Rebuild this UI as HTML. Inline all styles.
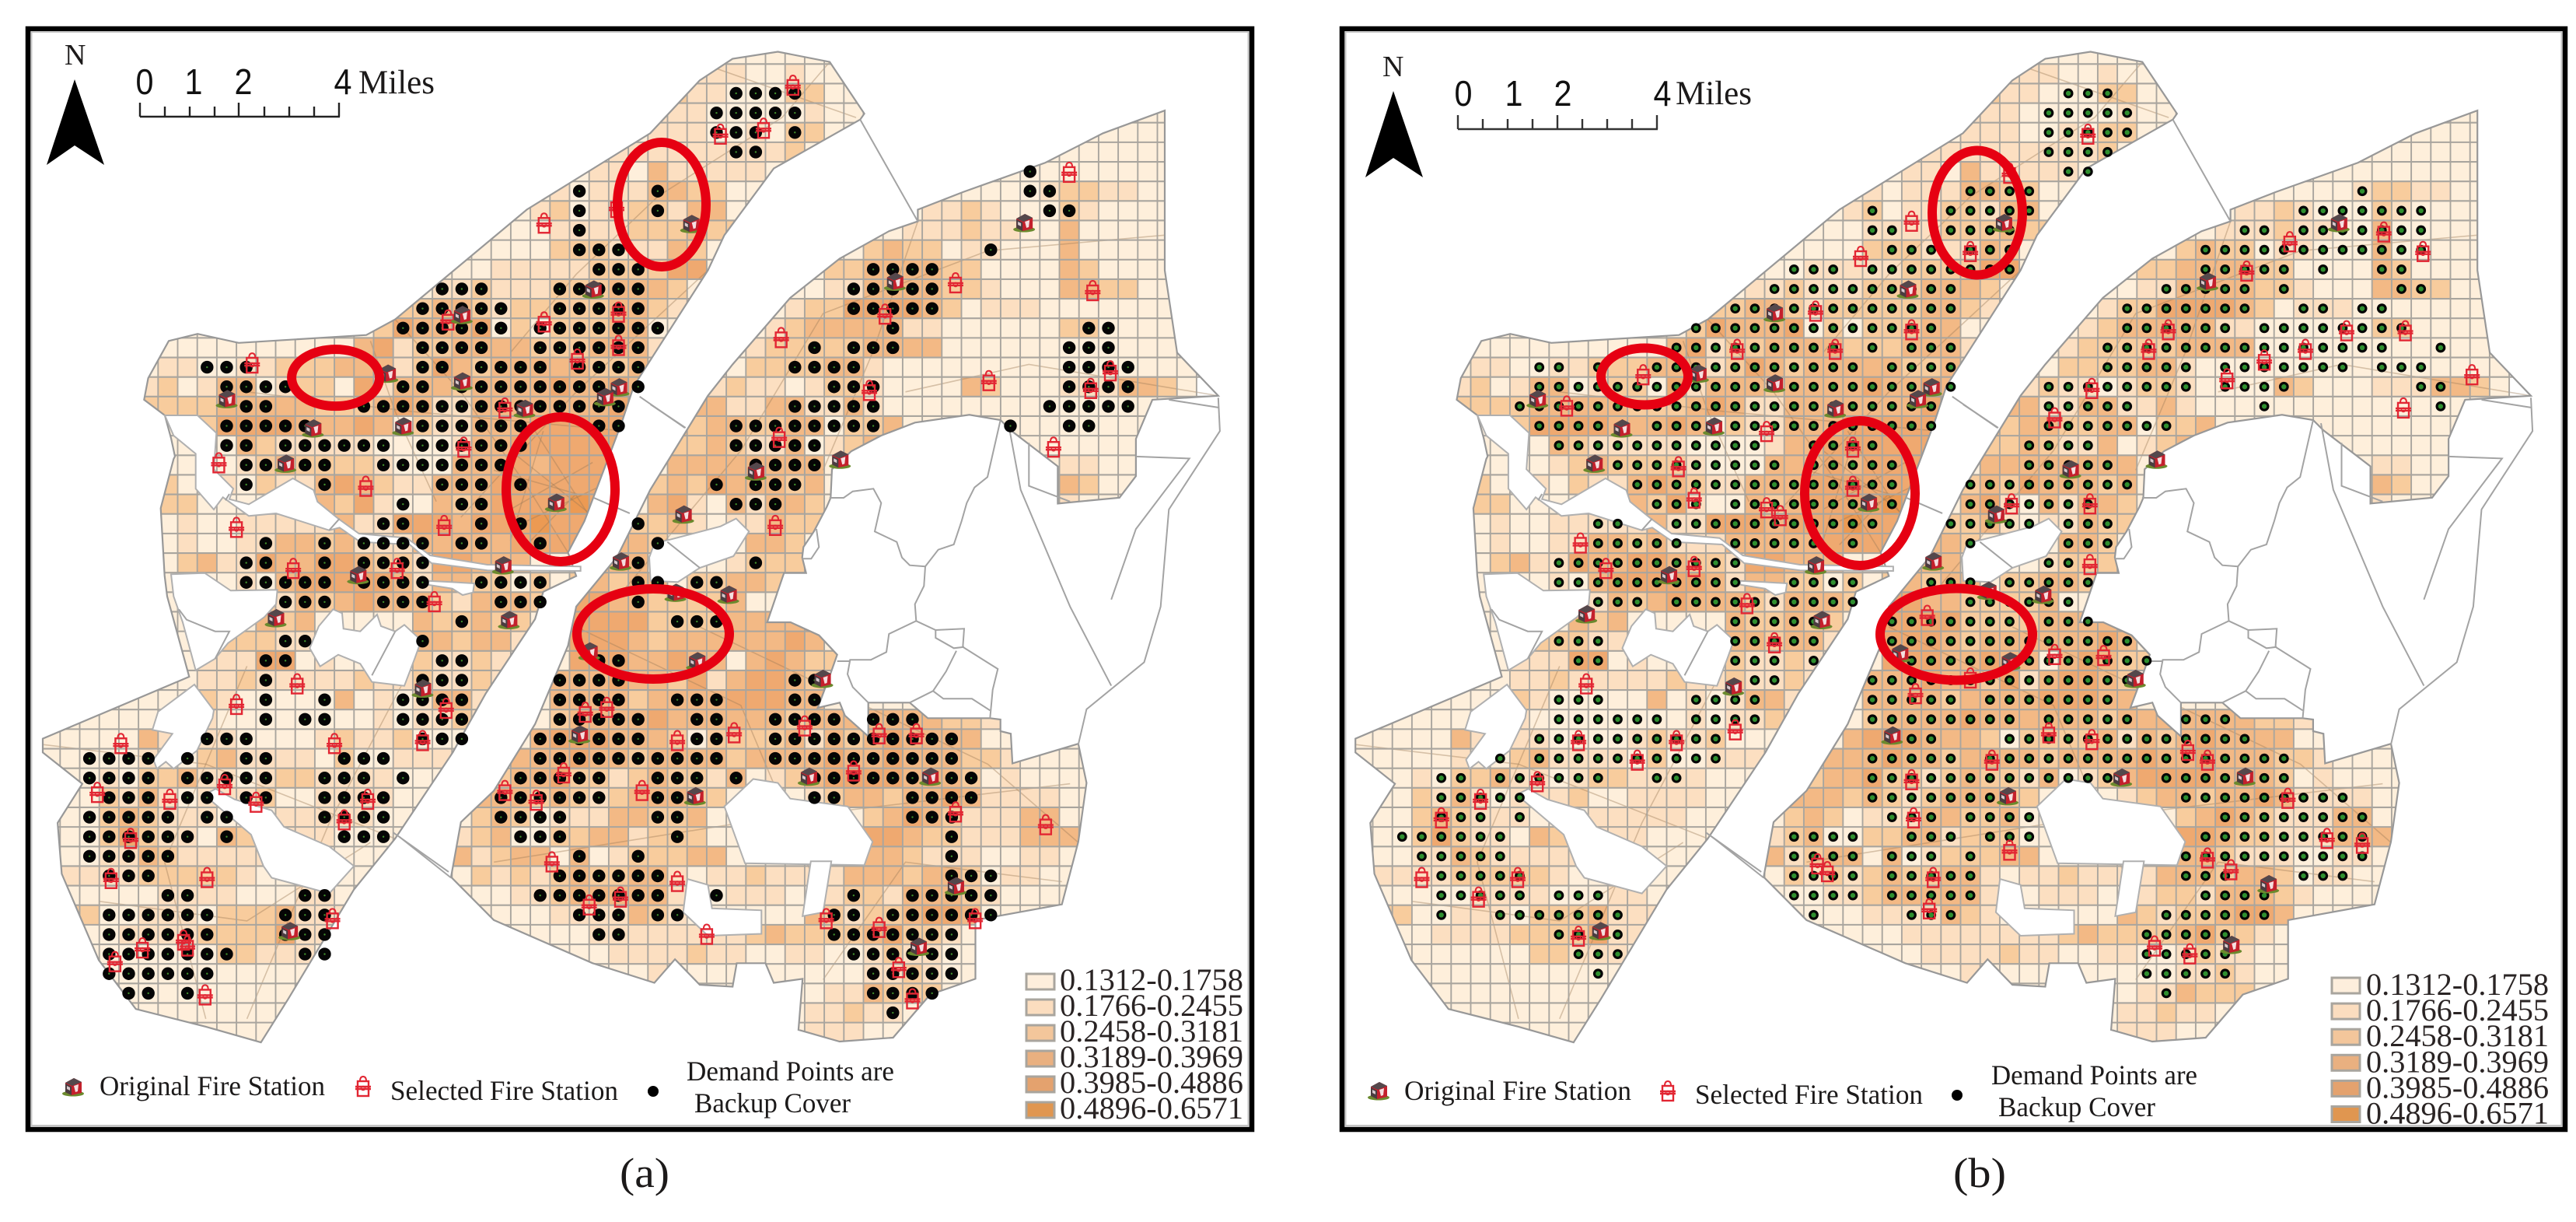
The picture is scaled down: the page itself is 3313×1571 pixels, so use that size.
<!DOCTYPE html>
<html>
<head>
<meta charset="utf-8">
<title>Backup coverage maps (a) and (b)</title>
<style>
html,body{margin:0;padding:0;background:#fff;}
svg{display:block;}
text{font-family:"Liberation Serif",serif;fill:#1c1a1a;}
.sans{font-family:"Liberation Sans",sans-serif;fill:#111;}
.leg{font-size:40px;fill:#2a2424;}
.lab{font-size:36px;}
.ell{fill:none;stroke:#e60012;stroke-width:12;}
</style>
</head>
<body>
<svg id="fig" xmlns="http://www.w3.org/2000/svg" width="3313" height="1571" viewBox="0 0 3313 1571">
<defs>
<symbol id="sym-original" viewBox="0 0 28 28" overflow="visible">
<ellipse cx="14" cy="23" rx="14" ry="3.5" fill="#6b8a2e"/>
<path d="M4 9 L15 3 L25 8 L25 22 L12 25 L4 21 Z" fill="#c4202c"/>
<path d="M4 9 L15 3 L25 8 L13 13 Z" fill="#54484c"/>
<path d="M4 10 L12 14 L12 25 L4 21 Z" fill="#4a3c40"/>
<path d="M15 13 L21 11 L20 20 L17 21 Z" fill="#f4dfe0"/>
<path d="M6 13 L10 15 L10 19 L6 17 Z" fill="#d8c8cc"/>
</symbol>
<symbol id="sym-selected" viewBox="0 0 20 28" overflow="visible">
<path d="M6 7 Q6 1 10 1 Q14 1 14 7" fill="none" stroke="#e22633" stroke-width="2"/>
<rect x="3" y="7" width="14" height="19" fill="none" stroke="#e22633" stroke-width="2.4"/>
<path d="M0 14 H20 M0 17 H20" stroke="#e22633" stroke-width="2.4"/>
<circle cx="10" cy="16" r="2.6" fill="none" stroke="#e22633" stroke-width="1.4"/>
</symbol>
</defs>

<g id="panel-a-map"></g>
<g id="panel-b-map"></g>

<!-- Panel a furniture -->
<g>
<rect x="36" y="37" width="1574" height="1415" fill="none" stroke="#000" stroke-width="6.5"/>
<rect x="40.5" y="41" width="1565" height="1406" fill="none" stroke="#c4c4c4" stroke-width="2"/>
<ellipse class="ell" cx="851" cy="263" rx="57" ry="80"/>
<ellipse class="ell" cx="431.6" cy="485.6" rx="56.5" ry="36.5"/>
<ellipse class="ell" cx="721" cy="629" rx="70" ry="93"/>
<ellipse class="ell" cx="840" cy="815" rx="98" ry="58"/>
<text x="83" y="83" font-size="38">N</text>
<polygon points="96,102 60,212 96,187 134,212" fill="#000"/>
<text class="sans" x="186" y="121" font-size="46" text-anchor="middle" textLength="23" lengthAdjust="spacingAndGlyphs">0</text>
<text class="sans" x="249" y="121" font-size="46" text-anchor="middle" textLength="23" lengthAdjust="spacingAndGlyphs">1</text>
<text class="sans" x="313" y="121" font-size="46" text-anchor="middle" textLength="23" lengthAdjust="spacingAndGlyphs">2</text>
<text class="sans" x="441" y="121" font-size="46" text-anchor="middle" textLength="23" lengthAdjust="spacingAndGlyphs">4</text>
<text x="461" y="120" font-size="43" textLength="98" lengthAdjust="spacingAndGlyphs">Miles</text>
<path d="M180 150 H437 M180 132 V150 M212 137 V150 M244 137 V150 M276 137 V150 M307 132 V150 M340 137 V150 M372 137 V150 M404 137 V150 M436 132 V150" fill="none" stroke="#222" stroke-width="2.4"/>
<use href="#sym-original" x="80" y="1383" width="28" height="28"/>
<text class="lab" x="128" y="1408" textLength="290" lengthAdjust="spacingAndGlyphs">Original Fire Station</text>
<use href="#sym-selected" x="457" y="1383" width="20" height="28"/>
<text class="lab" x="502" y="1414" textLength="293" lengthAdjust="spacingAndGlyphs">Selected Fire Station</text>
<circle cx="840" cy="1403" r="7" fill="#000"/>
<text class="lab" x="883" y="1389" textLength="267" lengthAdjust="spacingAndGlyphs">Demand Points are</text>
<text class="lab" x="893" y="1430" textLength="201" lengthAdjust="spacingAndGlyphs">Backup Cover</text>
<text x="797" y="1526" font-size="54" textLength="64" lengthAdjust="spacingAndGlyphs">(a)</text>
</g>

<!-- Panel b furniture -->
<g>
<rect x="1726" y="37" width="1573" height="1415" fill="none" stroke="#000" stroke-width="6.5"/>
<rect x="1730.5" y="41" width="1564" height="1406" fill="none" stroke="#c4c4c4" stroke-width="2"/>
<ellipse class="ell" cx="2543" cy="273.5" rx="58" ry="80"/>
<ellipse class="ell" cx="2115" cy="484" rx="56" ry="36.5"/>
<ellipse class="ell" cx="2392" cy="634" rx="71" ry="93"/>
<ellipse class="ell" cx="2516" cy="815.5" rx="98" ry="59"/>
<text x="1778" y="98" font-size="38">N</text>
<polygon points="1792,117 1756,228 1792,203 1830,228" fill="#000"/>
<text class="sans" x="1882" y="136" font-size="46" text-anchor="middle" textLength="23" lengthAdjust="spacingAndGlyphs">0</text>
<text class="sans" x="1947" y="136" font-size="46" text-anchor="middle" textLength="23" lengthAdjust="spacingAndGlyphs">1</text>
<text class="sans" x="2010" y="136" font-size="46" text-anchor="middle" textLength="23" lengthAdjust="spacingAndGlyphs">2</text>
<text class="sans" x="2138" y="136" font-size="46" text-anchor="middle" textLength="23" lengthAdjust="spacingAndGlyphs">4</text>
<text x="2155" y="134" font-size="43" textLength="98" lengthAdjust="spacingAndGlyphs">Miles</text>
<path d="M1875 166 H2132 M1875 148 V166 M1907 153 V166 M1939 153 V166 M1971 153 V166 M2003 148 V166 M2035 153 V166 M2067 153 V166 M2099 153 V166 M2131 148 V166" fill="none" stroke="#333" stroke-width="2.4"/>
<use href="#sym-original" x="1759" y="1388" width="28" height="28"/>
<text class="lab" x="1806" y="1414" textLength="292" lengthAdjust="spacingAndGlyphs">Original Fire Station</text>
<use href="#sym-selected" x="2135" y="1389" width="20" height="28"/>
<text class="lab" x="2180" y="1419" textLength="293" lengthAdjust="spacingAndGlyphs">Selected Fire Station</text>
<circle cx="2517" cy="1408" r="7" fill="#000"/>
<text class="lab" x="2561" y="1394" textLength="265" lengthAdjust="spacingAndGlyphs">Demand Points are</text>
<text class="lab" x="2570" y="1435" textLength="202" lengthAdjust="spacingAndGlyphs">Backup Cover</text>
<text x="2512" y="1526" font-size="54" textLength="68" lengthAdjust="spacingAndGlyphs">(b)</text>
</g>
<g id="legends"></g>
</svg>

<script>
// Heat class palette and legend labels
const classColors = ['#feefdb','#fcdfc1','#f8cc9d','#f3b985','#efa970','#ec9a53'];
const swatchColors = ['#fdeedc','#fbddbf','#f3c69b','#e9b080','#e4a26e','#e09650'];
const classLabels = ['0.1312-0.1758','0.1766-0.2455','0.2458-0.3181','0.3189-0.3969','0.3985-0.4886','0.4896-0.6571'];

// Heat class per grid row (row -2 upward); each token is startColumn:classDigits, default class 0
const heatRows = [
'', '35:111 40:1', '34:211 40:22', '33:111 41:1', '33:111 38:1 40:22', '31:111111 37:111 40:2',
'30:11 33:311111',
'28:10 30:1113322 53:12211',
'27:12 30:1122133 47:112 50:1 54:21',
'28:11 30:11222322 46:1112 50:11 54:3',
'28:22 30:2111 34:32 44:2322 49:11 54:3',
'24:011111 30:2222 34:44 42:22333322 54:32',
'22:11211122 30:2333 34:2 42:11333322 50:1 54:3322',
'20:2233212222 30:23321 40:1224444 47:32 50:111',
'19:2 20:43334020222330 39:12 41:33333 46:11 54:22',
'18:34 20:12233332223331 37:01 39:22222 44:3333',
'8:110011 14:222333 20:12432333332231 36:102 39:2 40:22331',
'7:1201330122041 20:3332333343343 36:121101221 49:32 54:111332',
'7:2222333332223 20:43113333333442 34:33311331131',
'8:002444433343 20:02113334444442 34:323322330223',
'9:00032111110000133 26:44444431 34:22321130123',
'9:00012322221000333 26:4344442 34:33333333 53:011',
'8:200102113432113334 26:444442 33:232433323 53:232',
'8:22 16:3241003234 26:444541 33:341031332 53:11',
'8:010011 14:1113 18:11 20:44434 25:445442 31:32 33:231011322',
'8:01001133231113333 25:34444 31:332 38:332',
'8:02311433443221 22:44333 30:333 37:1222',
'9:0001034444431 22:332202 29:23 31:233 35:22332',
'13:2 14:132343332133 26:321 29:44 31:3322223',
'13:323 21:322322 29:44 31:44222233334',
'11:22211 21:332331 29:444 32:3233333343',
'10:1114401 21:21121 29:444 32:33433034322',
'9:0112111112112112 25:1 28:3334 32:3324134432',
'10:210000030101331 28:3333 32:2333344433',
'8:111 19:101121 28:2333 32:3433333323333333 48:221',
'5:003 8:11 10:11 16:12112 27:34443 32:3320222231 42:32343333',
'3:00001 10:2311110200111 26:333433 32:233332333343343332 50:21',
'4:010223110122 16:111100 25:2334221232213 39:12344443332010',
'3:0021310 10:1112 16:11110 24:3332321233322 39:001233233431111',
'3:0023211 10:1 14:111110 24:232011133223 44:2 45:34321 50:1133',
'3:0024211 11:3 12:211110 23:1230022331222 44:443221 50:11333',
'3:00113211 11:111 23:31233030122233 44:332111 50:0011',
'3:1111222 10:221 23:021212322331 36:11211113 44:33233 49:2011',
'3:000001 9:111000110 24:00112333331 37:111001 43:221333 49:21',
'3:22001110 11:2223111 25:0001111321 41:321223443',
'4:001111222 13:24110 30:111111 36:1123222234221',
'11:221 14:110 31:1111211 40:11 44:1211',
'33:1 44:1121',
'42:11 44:3222',
'41:11211',
'41:111'
];

// Backup-cover demand points: per row (row 0 upward), occupied columns
const dotsA = [
'37-40','36-40','36-38 40','37-38','52','29 33 52-53','29 33 53-54','29','29-31 50',
'30-32 44-47','22-24 28-32 43-47','21-25 28-32 43-47','20-25 27-33 45 55-56',
'21-24 27-32 41 43-45 54-56','10-12 21-22 24-27 29-32 40-43 54-57',
'11-14 20-21 23-32 42-44 54-57','12-13 18-31 40-44 53-57',
'11-15 20-26 30-31 37-44 51 54-55','11-12 14-19 21-26 37-41','12-16 19-25 38-41',
'12 16 22-24 26 36 38-40','20 23-24 37-39','19-20 24 26 32','13 16 18-21 23-24 27 33',
'12-13 16 18-21 32 38','12-16 18-21 24-27 32-33 35-36','14-16 19-21 25-27 32',
'23 34-36','14-15 21','13-14 22-23 30-31','13 21-23 28-31 40-41',
'13 16 20-23 28-31 34-36 40-41','13 15-16 20-23 28-32 35-36 39-42 44-46',
'10-12 21-23 27-32 35-36 39-48','4-7 9 12-13 17-19 27-36 39-48',
'4-7 9-13 16-18 20 26-30 33-35 37 41-49','5-7 9-10 12-13 16-19 25-30 33-34 41-42 46-49',
'4-8 10-11 16-19 25-28 33-34 46-48','4-9 11 17-19 26-28 34 48','4-8 29 32 48',
'5-7 28-33 48-50','8-9 15-16 27-33 36 43 46-50','5-10 14-16 29-31 33-34 42-43 45-50',
'5-10 14-16 30-31 42-48','5-11 15-16 43-48','5-10 44-48','6-7 9 44-47','45'
];
const dotsB = [
'38-40','37-41','37-41','37-40','38-39','33-36 53','28 32-36 50-56','28-29 32-35 47-48 50-56',
'29-31 33-35 45-56','24-26 28-35 45-49 51 54-55','23-32 43-47 49 55-56','21-32 41-47 50-51 53-54',
'19-31 41-46 48-55','18-26 28 30-32 40-54 57','11-12 14 17-27 29-32 40-44 46-52 54-56',
'11-32 37-44 46-49 56-57','10-31 37-41 48 57','11-14 17-31 37-43','12-22 25-28 36-39',
'15-23 25-29 36-40','16-29 33-41','17-19 21-29 33-39','14-15 18-28 32-36 38-40',
'14-18 21-25 27 33 38-40','12-21 31 37-38','12-21 24-27 31-33 35-39','14-16 18-27 33-38',
'21-25 29-35 37-39','12-14 21-25 29-41','13-14 21-23 25 30-42','22-23 28-41',
'12-14 19-22 28-32 34-40','12-17 19-22 28-35 37-41 44-46','11-20 30-31 35-47',
'9 11-20 28-32 34-49','6-7 9-14 17-18 28-40 43-49','6-10 28-34 44-52','6-8 10 29-31 33-36 46-53',
'4-9 24-27 30-32 34-36 45-53','5-9 24-27 29-31 33 44-53','6-10 24-27 29-33 44-46 50-52',
'6-10 12-14 24-27 29-33 45-48','6 9-15 25 30-32 43-48','12-15 42-46','13-15 42-46','14 42-46','43'
];

// Fire stations as [column, row] grid positions
const originalA = [[34.7,6.65],[51.7,6.6],[45.1,9.6],[29.7,10],[23,11.3],[19.2,14.3],[23,14.7],[31,15],[30.3,15.5],[11,15.6],[26.2,16.1],[15.4,17.1],[20,17],[14,18.9],[42.3,18.7],[38,19.3],[27.8,20.9],[34.3,21.5],[25.1,24.1],[31.1,23.9],[17.7,24.6],[33.9,25.5],[36.6,25.6],[13.5,26.8],[25.4,26.9],[21,30.4],[35,29],[29.5,28.5],[41.4,29.9],[29,32.75],[40.7,34.9],[46.9,34.9],[34.9,35.9],[48.2,40.5],[14.2,42.8],[46.3,43.6]];
const selectedA = [[39.9,-0.4],[36.2,2.1],[38.4,1.8],[54,4.05],[27.2,6.65],[30.9,5.85],[48.2,9.7],[55.2,10.1],[31,11.2],[44.6,11.3],[22.3,11.6],[27.2,11.7],[39.3,12.5],[31,12.9],[28.9,13.6],[12.3,13.8],[56.1,14.2],[49.9,14.7],[43.8,15.2],[55.1,15.1],[25.2,16.1],[39.2,17.6],[53.2,18.1],[23.1,18.1],[10.6,18.9],[18.1,20.1],[39,22.1],[22.1,22.1],[11.5,22.2],[14.4,24.3],[19.7,24.3],[21.6,26],[14.6,30.2],[11.5,31.25],[22.2,31.45],[29.3,31.65],[30.4,31.4],[16.5,33.25],[21,33.1],[5.6,33.25],[36.9,32.7],[34,33.1],[40.5,32.35],[44.3,32.75],[46.2,32.75],[43,34.65],[28.2,34.75],[4.4,35.75],[8.1,36.1],[12.5,36.25],[10.9,35.35],[18.2,36.1],[25.2,35.65],[26.8,36.15],[32.2,35.65],[48.2,36.75],[17,37.15],[6.1,38.1],[52.8,37.4],[27.6,39.3],[10,40.1],[5.1,40.15],[34,40.3],[29.5,41.5],[31.1,41.1],[41.6,42.2],[49.2,42.2],[16.4,42.2],[44.3,42.65],[35.5,43],[6.7,43.7],[8.8,43.3],[9,43.6],[5.3,44.4],[45.3,44.7],[9.9,46.1],[46,46.3]];
const originalB = [[34.7,6.6],[51.8,6.6],[45.1,9.6],[29.8,10],[23,11.2],[19.1,14.3],[23,14.8],[31,15],[30.3,15.6],[10.9,15.6],[26.1,16.1],[15.2,17.1],[19.9,17],[13.8,18.9],[42.5,18.7],[38.1,19.2],[27.8,20.9],[34.3,21.5],[25.1,24.1],[31.1,23.9],[17.6,24.6],[33.9,25.4],[36.7,25.6],[13.4,26.6],[25.4,26.9],[20.9,30.3],[29.4,28.6],[35,29],[41.4,29.9],[29,32.8],[40.7,34.95],[47,34.9],[34.9,35.9],[48.2,40.4],[14.1,42.8],[46.3,43.5]];
const selectedB = [[39,2.1],[35,4.1],[30,6.55],[54.1,7.1],[49.3,7.6],[56.1,8.1],[33,8.1],[27.4,8.35],[47.1,9.1],[25.1,11.15],[30,12.1],[43.1,12.1],[52.2,12.15],[55.2,12.15],[21.1,13.1],[26.1,13.1],[42.1,13.1],[50.1,13.1],[48,13.65],[16.3,14.4],[46.1,14.6],[58.6,14.4],[39.2,15.1],[12.4,16],[55.1,16.1],[37.3,16.6],[22.6,17.3],[27,18.1],[18.1,19.1],[27,20.1],[18.9,20.7],[22.6,21.2],[23.3,21.6],[35.1,21],[39.1,21],[13.1,23],[39.1,24.1],[14.4,24.3],[18.9,24.2],[21.6,26.1],[30.8,26.7],[23,28.1],[37.3,28.7],[39.8,28.75],[33,29.9],[13.4,30.2],[30.2,30.7],[21,32.55],[37,32.7],[39.2,33.05],[13,33.1],[18,33.1],[44.1,33.6],[16,34.1],[34.1,34.1],[45.1,34.1],[10.9,35.2],[30,35.1],[8,36.1],[49.2,36.05],[6,37.05],[30.1,37.05],[51.2,38.1],[53,38.35],[35,38.7],[45.1,39.1],[25.2,39.4],[25.7,39.8],[46.3,39.7],[5,40.1],[9.9,40.1],[31.1,40.1],[7.9,41.1],[30.9,41.7],[42.4,43.6],[44.2,44],[13,43.1]];

// Geographic outlines, traced in three survey frames and normalised to panel units
const fromSurvey = list => list.map(p => [p[0] / 0.9446, p[1] / 1.985]);
const fromWest = list => list.map(p => [180 + p[0] / 3, 560 + p[1] / 3]);
const fromEast = list => list.map(p => [800 + p[0] / 3, 520 + p[1] / 3]);

const bankWest = [
  ...fromSurvey([[175,1020],[180,965],[205,870],[240,852],[290,875],[445,855],[480,815],[640,535],[790,340],[850,205],[890,150],[945,132],[1008,158],[1050,290],[1045,305],[940,430],[880,600],[860,690],[770,985],[755,1080],[710,1330],[690,1410],[700,1470],[660,1510],[650,1580],[590,1770],[550,1920],[480,2140],[430,2270],[350,2550],[317,2660],[250,2620],[165,2575],[120,2450],[75,2230],[70,2100],[100,2000],[52,1920],[52,1885]]),
  ...fromWest([[190,930],[105,620],[95,540],[80,280],[130,90],[135,80],[120,10],[96,-78]])
];
const bankEast = [
  ...fromSurvey([[548,2238],[560,2098],[600,2018],[650,1848],[690,1648],[700,1548],[750,1420],[790,1250],[860,1010],[890,930],[960,760],[1020,660],[1080,590],[1115,565],[1115,535],[1170,490],[1270,415],[1340,340],[1415,282],[1415,690],[1430,900],[1480,1010],[1400,1020],[1380,1120],[1380,1215],[1360,1270],[1285,1285],[1285,1190]]),
  ...fromEast([[1500,100],[1460,60],[1340,40],[1130,70],[1000,120],[885,180],[810,250],[805,360],[790,395],[740,490],[700,550],[695,590],[710,650],[625,650],[560,840],[650,840],[760,890],[830,965],[800,1050],[755,1170],[840,1150],[860,1200],[950,1280],[950,1150],[1110,1150],[1180,1210],[1420,1210],[1460,1215],[1460,1260],[1500,1270]]),
  ...fromSurvey([[1230,1948],[1310,1898],[1320,1998],[1310,2148],[1290,2308],[1185,2348],[1185,2498],[1130,2538],[1085,2648],[1020,2658],[970,2628],[975,2498],[940,2508],[930,2458],[895,2458],[890,2518],[850,2513],[820,2448],[795,2508],[720,2458],[600,2348]])
];
const lakes = [
  fromWest([[96,-78],[222,-78],[295,-10],[285,130],[360,205],[345,245],[420,265],[590,165],[670,210],[685,255],[765,320],[845,378],[1030,395],[1120,462],[1340,498],[1700,505],[1700,522],[1340,520],[1125,492],[1040,420],[850,410],[770,355],[730,365],[525,300],[420,310],[320,238],[285,285],[215,205],[215,70],[130,0]]),
  fromWest([[120,535],[250,530],[350,598],[530,595],[525,650],[480,700],[340,800],[290,860],[215,905],[165,720],[130,620]]),
  fromWest([[745,670],[780,685],[785,745],[850,755],[915,690],[930,735],[985,755],[1020,730],[1085,790],[1060,860],[1020,965],[895,950],[850,880],[765,845],[695,890],[655,820],[690,735]]),
  fromWest([[1110,560],[1200,565],[1290,570],[1285,605],[1245,615],[1205,590],[1110,575]]),
  fromWest([[210,960],[285,1060],[280,1090],[220,1215],[130,1285],[100,1258],[65,1285],[52,1250],[125,1150],[48,1135],[70,1065]]),
  fromSurvey([[262,2013],[248,2028],[305,2130],[320,2210],[330,2240],[400,2280],[430,2210],[400,2160],[345,2110],[330,2068],[285,2040]]),
  fromSurvey([[915,1988],[880,2058],[905,2203],[1050,2208],[1060,2148],[1030,2058],[960,2038],[945,1998]]),
  fromSurvey([[835,2243],[830,2328],[860,2388],[925,2383],[925,2323],[865,2318],[860,2258]]),
  fromSurvey([[985,2198],[975,2338],[1000,2328],[1010,2198]]),
  fromEast([[110,680],[105,590],[125,535],[190,520],[380,470],[440,440],[490,490],[430,585],[300,630],[215,685]])
];
const roads = [
  [[480,815],[560,1000],[640,1240],[690,1410]],[[860,690],[700,1000],[560,1320]],[[1008,158],[950,300],[800,500],[700,700],[620,900]],
  [[300,1000],[500,1050],[760,1100]],[[620,1150],[740,1350]],[[650,1100],[720,1330]],[[620,1300],[720,1180]],[[450,870],[480,1050],[530,1280]],
  [[600,1200],[700,1260],[640,1390]],[[640,1330],[730,1240]],[[660,1100],[620,1380]],
  [[1415,600],[1200,640],[1000,800],[900,1150],[760,1500]],[[1115,565],[1060,900],[1000,1200]],[[850,1600],[1000,1750],[1200,1950],[1310,2150]],
  [[700,1600],[900,1800],[1000,2300]],[[1480,1010],[1250,930],[1100,1000]],[[600,2200],[900,2100],[1300,2000]],[[1000,2500],[1100,2200],[1290,2250]],
  [[52,1900],[250,1950],[480,2140]],[[300,1700],[200,2200],[250,2600]],[[500,1700],[400,2100],[300,2600]],[[850,160],[1040,300]],[[120,2300],[300,2350],[450,2150]]
].map(fromSurvey);
const districtLines = [
  ...[
    [[1045,305],[1115,565]],[[777,1012],[832,1092]],[[721,1270],[765,1310]],[[485,2135],[548,2240]],[[478,2125],[545,2225]],
    [[1225,1080],[1240,1250],[1300,1548],[1350,1750]],[[1250,1130],[1250,1240],[1300,1280]],[[1380,1165],[1445,1170],[1380,1350],[1350,1530]],
    [[1480,1015],[1482,1100],[1420,1300],[1410,1548],[1390,1690],[1320,1810],[1310,1900]],[[1420,1020],[1480,1040]]
  ].map(fromSurvey),
  ...[
    [[1460,60],[1410,280],[1360,320],[1330,380],[1310,450],[1280,540],[1220,560],[1170,625],[1165,700],[1130,770],[1135,835],[1030,885],[1020,955],[960,985],[880,985],[870,1040],[890,1090],[950,1150]],
    [[800,360],[855,360],[890,335],[970,325],[1000,380],[975,490],[1060,530],[1080,590],[1110,620],[1170,625]],
    [[1135,835],[1210,870],[1320,865],[1315,935],[1450,1020],[1430,1100],[1420,1210]],
    [[1210,870],[1210,900],[1280,940],[1320,935]],
    [[1290,950],[1250,1030],[1200,1105],[1110,1150]],
    [[1200,1105],[1240,1135],[1350,1135],[1420,1180]],
    [[750,480],[760,550],[730,595],[695,595]],[[830,990],[880,990]],[[110,0],[245,90]],[[175,530],[300,630]]
  ].map(fromEast),
  ...[
    [[150,670],[180,710],[290,755],[345,755],[290,860]],[[985,755],[895,925]],[[345,225],[330,250]],[[770,320],[730,365]]
  ].map(fromWest)
];

// Axis functions
const colX = c => 14.3 + 25.2 * c;
const rowY = r => 120 + 25.15 * r;
const CELL_W = 25.2, CELL_H = 25.15;
const NS = 'http://www.w3.org/2000/svg';

function make(tag, attrs, parent) {
  const el = document.createElementNS(NS, tag);
  for (const k in attrs) el.setAttribute(k, attrs[k]);
  parent.appendChild(el);
  return el;
}
function pts(list) {
  return list.map(p => p[0].toFixed(1) + ',' + p[1].toFixed(1)).join(' ');
}
function parseHeat(spec) {
  const out = {};
  spec.split(' ').filter(Boolean).forEach(tok => {
    const [s, d] = tok.split(':');
    for (let i = 0; i < d.length; i++) out[+s + i] = +d[i];
  });
  return out;
}
function parseCols(spec) {
  const out = [];
  spec.split(' ').filter(Boolean).forEach(tok => {
    const [a, b] = tok.split('-').map(Number);
    for (let c = a; c <= (b === undefined ? a : b); c++) out.push(c);
  });
  return out;
}

function drawPanel(group, id, dx, dots, originals, selecteds, dotCore, dotR, coreR) {
  group.setAttribute('transform', 'translate(' + dx + ',0)');
  const defs = make('defs', {}, group);
  const clip = make('clipPath', {id: 'land-' + id}, defs);
  [bankWest, bankEast].forEach(b => make('polygon', {points: pts(b)}, clip));

  // land cells
  const land = make('g', {'clip-path': 'url(#land-' + id + ')'}, group);
  
  

  heatRows.forEach((spec, i) => {
    const r = i - 2;
    const row = parseHeat(spec);
    for (let c = 0; c < 61; c++) {
      const cls = row[c] === undefined ? 0 : row[c];
      const cell = make('rect', {x: (colX(c) - CELL_W / 2).toFixed(1), y: (rowY(r) - CELL_H / 2).toFixed(1), width: CELL_W + 0.4, height: CELL_H + 0.4, fill: classColors[cls]}, land);
      
      
    }
  });

  // roads
  roads.forEach(l => {
    const rd = make('polyline', {points: pts(l), fill: 'none', stroke: '#9a7a58', 'stroke-opacity': 0.4, 'stroke-width': 1.6}, land);
    
    
  });

  // grid lines
  for (let c = 0; c <= 61; c++) {
    const gx = colX(c) - CELL_W / 2;
    make('line', {x1: gx, x2: gx, y1: rowY(-3), y2: rowY(49), stroke: '#a9a59e', 'stroke-width': 1.9}, land);
  }
  for (let r = -3; r <= 49; r++) {
    const gy = rowY(r) - CELL_H / 2;
    make('line', {x1: colX(-1), x2: colX(61), y1: gy, y2: gy, stroke: '#a9a59e', 'stroke-width': 2.1}, land);
  }

  // coast outlines, water bodies and district lines
  [bankWest, bankEast].forEach(b => {
    const o = make('polygon', {points: pts(b), fill: 'none', stroke: '#989898', 'stroke-width': 2.2}, group);
    
    
  });
  lakes.forEach(l => {
    const o = make('polygon', {points: pts(l), fill: '#fff', stroke: '#b0b0b0', 'stroke-width': 2}, group);
    
    
  });
  districtLines.forEach(l => {
    const ln = make('polyline', {points: pts(l), fill: 'none', stroke: '#a3a3a3', 'stroke-width': 2}, group);
    
    
  });

  // demand points
  dots.forEach((spec, r) => {
    parseCols(spec).forEach(c => {
      const d = make('circle', {cx: colX(c), cy: rowY(r), r: dotR, fill: '#050505'}, group);
      
      
      make('circle', {cx: colX(c), cy: rowY(r), r: coreR, fill: dotCore}, group);
    });
  });

  // stations
  selecteds.forEach(p => {
    const s = make('use', {href: '#sym-selected', x: colX(p[0]) - 10, y: rowY(p[1]) - 14, width: 20, height: 28}, group);
    
    
  });
  originals.forEach(p => {
    const s = make('use', {href: '#sym-original', x: colX(p[0]) - 14, y: rowY(p[1]) - 14, width: 28, height: 28}, group);
    
    
  });
}

drawPanel(document.getElementById('panel-a-map'), 'a', 0, dotsA, originalA, selectedA, '#3f8f2c', 8.2, 1.2);
drawPanel(document.getElementById('panel-b-map'), 'b', 1688.2, dotsB, originalB, selectedB, '#2f8f2f', 6.4, 3.2);

// Legends
function drawLegend(swatchX, textX, textW, firstY, stepY, baselineOffset) {
  const host = document.getElementById('legends');
  classLabels.forEach((label, i) => {
    const cy = firstY + stepY * i;
    const sw = make('rect', {x: swatchX, y: cy - 10, width: 36, height: 20, fill: swatchColors[i], stroke: '#a9a59e', 'stroke-width': 3}, host);
    
    
    const t = make('text', {x: textX, y: cy + baselineOffset, class: 'leg', textLength: textW, lengthAdjust: 'spacingAndGlyphs'}, host);
    t.textContent = label;
    
    
  });
}
drawLegend(1320, 1363, 236, 1262, 33, 11);
drawLegend(2999, 3043, 235, 1267, 33.1, 12);
</script>
</body>
</html>
